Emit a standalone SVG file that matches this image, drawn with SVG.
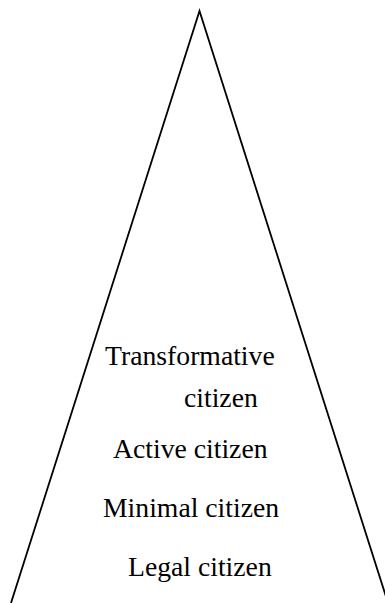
<svg xmlns="http://www.w3.org/2000/svg" width="385" height="603" viewBox="0 0 385 603">
  <style>
    .lbl { font-family: "Liberation Serif", "Times New Roman", "DejaVu Serif", serif; font-size: 27.7px; fill: #000; }
    .edge { fill: none; stroke: #000; stroke-width: 1.8; stroke-linejoin: miter; }
  </style>
  <rect width="385" height="603" fill="#fff"/>
  <g id="pyramid">
    <polyline class="edge" points="11,603 199.5,11 388,603"/>
  </g>
  <g id="transformative">
    <text class="lbl" x="105" y="365">Transformative</text>
    <text class="lbl" x="184" y="407">citizen</text>
  </g>
  <g id="active">
    <text class="lbl" x="113" y="458">Active citizen</text>
  </g>
  <g id="minimal">
    <text class="lbl" x="103" y="517">Minimal citizen</text>
  </g>
  <g id="legal">
    <text class="lbl" x="128" y="576">Legal citizen</text>
  </g>
</svg>
